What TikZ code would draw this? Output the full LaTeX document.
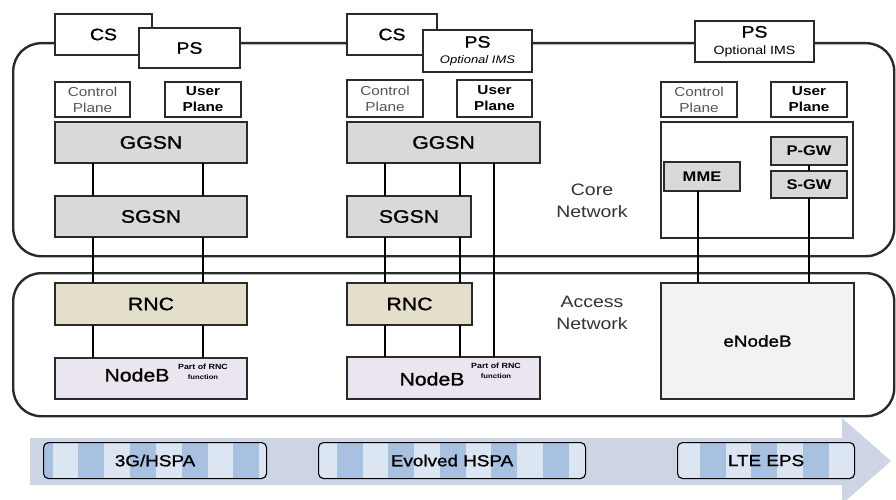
\documentclass[tikz,border=0pt]{standalone}
\usepackage{fontspec}
\setmainfont[FakeStretch=1.18]{Liberation Sans}
\newfontfamily\medfont[FakeStretch=1.18, FakeBold=1.2]{Liberation Sans}
\definecolor{boxgray}{HTML}{D9D9D9}
\definecolor{rncbeige}{HTML}{E3DFCA}
\definecolor{nodebl}{HTML}{EBE5F0}
\definecolor{enbgray}{HTML}{F2F2F2}
\definecolor{linec}{HTML}{2A2A2A}
\definecolor{barc}{HTML}{CDD5E5}
\definecolor{stripel}{HTML}{DCE6F3}
\definecolor{stripem}{HTML}{A9C1E1}
\definecolor{planegray}{HTML}{555555}
\tikzset{
  wh/.style 2 args={minimum width=#1pt, minimum height=#2pt},
  bx/.style={draw=linec, line width=1.1pt, anchor=north west, inner sep=0pt, outer sep=0pt, align=center, text=black},
  gbox/.style={bx, fill=boxgray, font=\medfont\fontsize{18}{20}\selectfont},
  lblbox/.style={bx, fill=white, font=\medfont\fontsize{16.5}{18}\selectfont},
  cplane/.style={bx, fill=white, text=planegray, font=\fontsize{13}{16}\selectfont},
  uplane/.style={bx, fill=white, font=\fontsize{13}{16}\selectfont\bfseries},
  smallg/.style={bx, fill=boxgray, font=\fontsize{14}{16}\selectfont\bfseries},
  netbox/.style={draw=linec, line width=2.4pt, rounded corners=28pt, anchor=north west, inner sep=0pt},
  conn/.style={draw=black, line width=1.3pt},
  stripbox/.style={draw=black, line width=1.1pt, rounded corners=5pt, anchor=north west, inner sep=0pt, font=\medfont\fontsize{16}{18}\selectfont},
  netlbl/.style={align=center, text=black!80, font=\fontsize{16.5}{22}\selectfont},
}
\begin{document}
\begin{tikzpicture}[x=1pt,y=-1pt]
\clip (0,0) rectangle (896,500);
\useasboundingbox (0,0) rectangle (896,500);
% evolution arrow
\fill[barc] (30,438) -- (842,438) -- (842,418) -- (891,461) -- (842,504) -- (842,485) -- (30,485) -- cycle;
% striped boxes
\begin{scope}
\clip[rounded corners=5pt] (43,442) rectangle (266,478);
\fill[stripel] (43,442) rectangle (266,478);
\foreach \x in {27,78,130,182,233} \fill[stripem] (\x,442) rectangle ++(26,36);
\end{scope}
\begin{scope}
\clip[rounded corners=5pt] (318,442) rectangle (585,478);
\fill[stripel] (318,442) rectangle (585,478);
\foreach \x in {286,337,388,440,491,543} \fill[stripem] (\x,442) rectangle ++(26,36);
\end{scope}
\begin{scope}
\clip[rounded corners=5pt] (677,442) rectangle (854,478);
\fill[stripel] (677,442) rectangle (854,478);
\foreach \x in {700,751,803} \fill[stripem] (\x,442) rectangle ++(26,36);
\end{scope}
\node[stripbox, wh={223}{36}] (ev1) at (43,442) {3G/HSPA};
\node[stripbox, wh={267}{36}] (ev2) at (318,442) {Evolved HSPA};
\node[stripbox, wh={177}{36}] (ev3) at (677,442) {LTE EPS};
% network areas
\node[netbox, wh={881}{213}] (core) at (12,42) {};
\node[netbox, wh={881}{143}] (access) at (12,272) {};
\node[netlbl] (corelbl) at (592,201) {Core\\Network};
\node[netlbl] (acclbl) at (592,313) {Access\\Network};
% column 1
\node[lblbox, wh={97}{41}] (cs1) at (55,14) {CS};
\node[lblbox, wh={101}{40}] (ps1) at (139,28) {PS};
\node[cplane, wh={75}{35}] (cp1) at (55,82) {Control\\Plane};
\node[uplane, wh={76}{35}] (up1) at (165,82) {User\\Plane};
\node[gbox, wh={192}{41}] (ggsn1) at (55,122) {GGSN};
\node[gbox, wh={192}{41}] (sgsn1) at (55,196) {SGSN};
\node[gbox, fill=rncbeige, wh={192}{42}] (rnc1) at (55,283) {RNC};
\node[bx, fill=nodebl, wh={192}{41}] (nb1) at (55,358) {};
\node[font=\medfont\fontsize{18}{20}\selectfont] (nb1t) at (137,375) {NodeB};
\node[font=\fontsize{7.5}{9.5}\selectfont\bfseries, align=center] (nb1p) at (203,372) {Part of RNC\\{\fontsize{6.5}{8}\selectfont function}};
% column 2
\node[lblbox, wh={90}{41}] (cs2) at (347,14) {CS};
\node[lblbox, wh={109}{42}, font=\fontsize{11}{16}\selectfont] (ps2) at (423,30) {{\medfont\fontsize{16.5}{16}\selectfont PS}\\\itshape Optional IMS};
\node[cplane, wh={76}{37}] (cp2) at (347,80) {Control\\Plane};
\node[uplane, wh={75}{37}] (up2) at (457,80) {User\\Plane};
\node[gbox, wh={193}{41}] (ggsn2) at (347,122) {GGSN};
\node[gbox, wh={124}{41}] (sgsn2) at (347,196) {SGSN};
\node[gbox, fill=rncbeige, wh={125}{42}] (rnc2) at (347,283) {RNC};
\node[bx, fill=nodebl, wh={193}{42}] (nb2) at (347,357) {};
\node[font=\medfont\fontsize{18}{20}\selectfont] (nb2t) at (432,379) {NodeB};
\node[font=\fontsize{7.5}{9.5}\selectfont\bfseries, align=center] (nb2p) at (496,371) {Part of RNC\\{\fontsize{6.5}{8}\selectfont function}};
% column 3
\node[lblbox, wh={119}{41}, font=\fontsize{12}{17}\selectfont] (ps3) at (695,21) {{\medfont\fontsize{16.5}{17}\selectfont PS}\\Optional IMS};
\node[cplane, wh={76}{35}] (cp3) at (661,82) {Control\\Plane};
\node[uplane, wh={76}{35}] (up3) at (771,82) {User\\Plane};
\node[bx, fill=white, wh={192}{116}] (epc) at (661,122) {};
\node[smallg, wh={76}{29}] (mme) at (664,162) {MME};
\node[smallg, wh={76}{28}] (pgw) at (771,137) {P-GW};
\node[smallg, wh={76}{27}] (sgw) at (771,171) {S-GW};
\node[bx, fill=enbgray, wh={193}{116}, font=\medfont\fontsize{16}{18}\selectfont] (enb) at (661,283) {eNodeB};
% connectors column 1
\foreach \s/\t in {ggsn1/sgsn1, sgsn1/rnc1, rnc1/nb1} {
  \draw[conn] ([xshift=38pt]\s.south west) -- ([xshift=38pt]\t.north west);
  \draw[conn] ([xshift=148pt]\s.south west) -- ([xshift=148pt]\t.north west);
}
% connectors column 2
\foreach \s/\t in {ggsn2/sgsn2, sgsn2/rnc2, rnc2/nb2} {
  \draw[conn] ([xshift=38pt]\s.south west) -- ([xshift=38pt]\t.north west);
  \draw[conn] ([xshift=113pt]\s.south west) -- ([xshift=113pt]\t.north west);
}
\draw[conn] ([xshift=147pt]ggsn2.south west) -- ([xshift=147pt]nb2.north west);
% connectors column 3
\draw[conn] ([xshift=-4pt]mme.south) -- ([xshift=-4pt]mme.south |- enb.north);
\draw[conn] (pgw.south) -- (sgw.north);
\draw[conn] (sgw.south) -- (sgw.south |- enb.north);
\end{tikzpicture}
\end{document}
